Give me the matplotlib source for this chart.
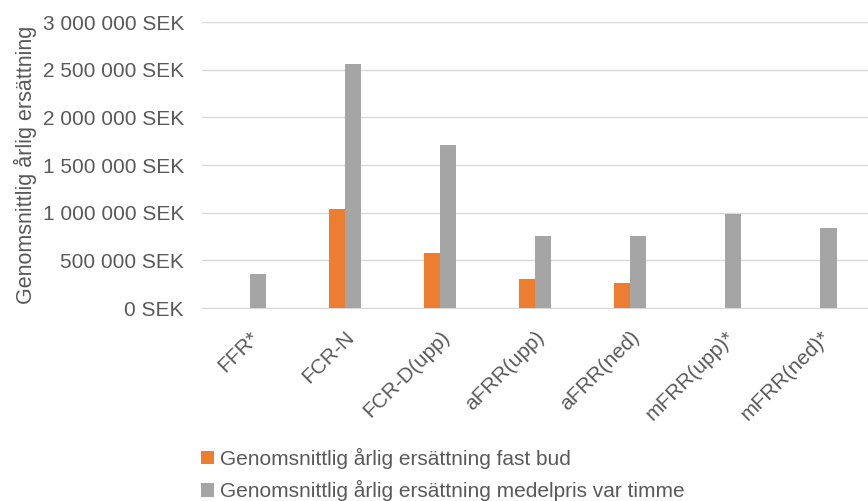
import numpy as np
import matplotlib.pyplot as plt
from matplotlib.ticker import FuncFormatter

categories = ['FFR*', 'FCR-N', 'FCR-D(upp)', 'aFRR(upp)', 'aFRR(ned)', 'mFRR(upp)*', 'mFRR(ned)*']
fast_bud = [0, 1040000, 580000, 310000, 265000, 0, 0]
medelpris = [360000, 2560000, 1715000, 760000, 760000, 985000, 840000]

plt.rcParams['font.family'] = ['Liberation Sans', 'DejaVu Sans']
text_color = '#595959'

fig = plt.figure(figsize=(8.68, 5.01), dpi=100)
ax = fig.add_axes([0.2327, 0.385, 0.7673, 0.571])

x = np.arange(len(categories))
w = 0.17
ax.bar(x - w / 2, fast_bud, w, color='#ED7D31', label='Genomsnittlig årlig ersättning fast bud', zorder=3)
ax.bar(x + w / 2, medelpris, w, color='#A5A5A5', label='Genomsnittlig årlig ersättning medelpris var timme', zorder=3)

ax.set_xlim(-0.5, len(categories) - 0.5)
ax.set_ylim(0, 3000000)
ax.set_yticks(np.arange(0, 3000001, 500000))
ax.yaxis.set_major_formatter(FuncFormatter(lambda v, p: f"{int(v):,}".replace(',', ' ') + ' SEK'))
ax.grid(axis='y', color='#D9D9D9', linewidth=1, zorder=0)
for s in ['top', 'right', 'left']:
    ax.spines[s].set_visible(False)
ax.spines['bottom'].set_color('#D9D9D9')

ax.set_xticks(x)
ax.set_xticklabels(categories, rotation=45, ha='right', rotation_mode='anchor')
ax.tick_params(axis='both', length=0, labelsize=15, colors=text_color)
ax.tick_params(axis='y', pad=13)
ax.tick_params(axis='x', pad=14)
ax.set_ylabel('Genomsnittlig årlig ersättning', fontsize=15.5, color=text_color, labelpad=4)

fig.legend(loc='upper left', bbox_to_anchor=(0.222, 0.123), ncol=1, frameon=False,
           fontsize=15, labelcolor=text_color, handlelength=0.6, handleheight=0.6,
           handletextpad=0.3, labelspacing=0.55, borderaxespad=0)

fig.savefig('out.png', dpi=100)
